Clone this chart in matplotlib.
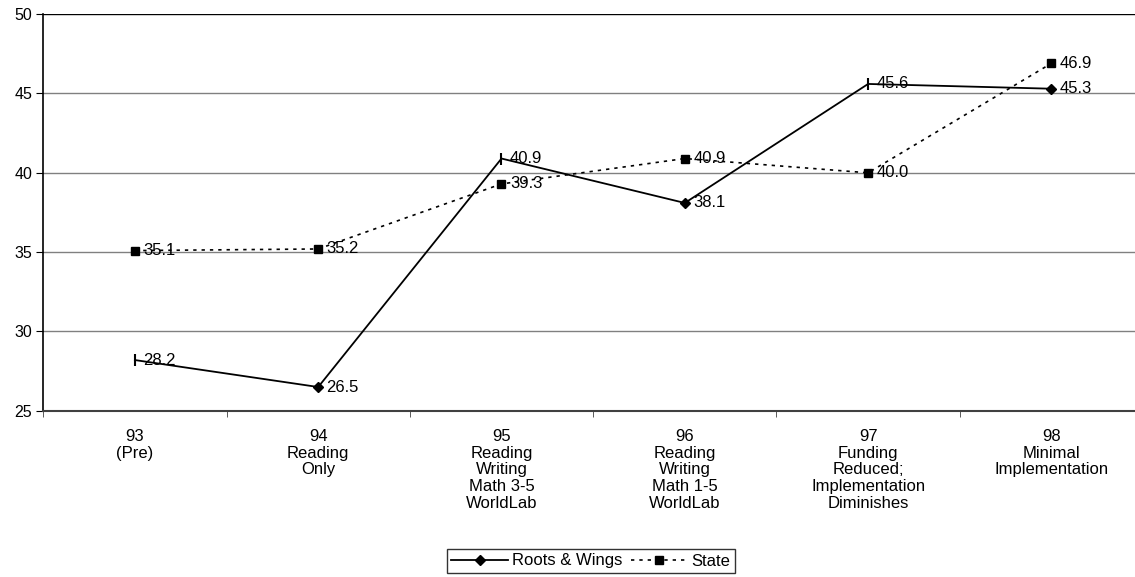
import matplotlib.pyplot as plt
from matplotlib import rcParams

rcParams['font.family'] = ['Liberation Sans', 'DejaVu Sans']
rcParams['font.size'] = 11.5

categories = ['93\n(Pre)', '94\nReading\nOnly', '95\nReading\nWriting\nMath 3-5\nWorldLab',
              '96\nReading\nWriting\nMath 1-5\nWorldLab', '97\nFunding\nReduced;\nImplementation\nDiminishes',
              '98\nMinimal\nImplementation']
roots_wings = [28.2, 26.5, 40.9, 38.1, 45.6, 45.3]
state = [35.1, 35.2, 39.3, 40.9, 40.0, 46.9]
# the original chart shows some Roots & Wings points as a bar instead of a diamond
rw_marker = ['|', 'D', '|', 'D', '|', 'D']

x = list(range(len(categories)))

fig = plt.figure(figsize=(11.35, 5.77), dpi=100)
ax = fig.add_axes([0.0381, 0.288, 0.969, 0.6875])

ax.set_ylim(25, 50)
ax.set_xlim(-0.5, len(categories) - 0.5)
ax.set_yticks([25, 30, 35, 40, 45, 50])
for yv in [30, 35, 40, 45]:
    ax.axhline(yv, color='#808080', linewidth=1, zorder=0)
ax.axhline(50, color='black', linewidth=1, zorder=0)

ax.plot(x, roots_wings, color='black', linewidth=1.3, marker='D', markersize=5,
        markevery=[i for i, m in enumerate(rw_marker) if m == 'D'], label='Roots & Wings', zorder=3)
bar_idx = [i for i, m in enumerate(rw_marker) if m == '|']
ax.plot([x[i] for i in bar_idx], [roots_wings[i] for i in bar_idx], linestyle='none',
        marker='|', markersize=8, markeredgewidth=1.5, color='black', zorder=3)
ax.plot(x, state, color='black', linewidth=1.2, linestyle=(0, (2, 3)), marker='s', markersize=6,
        label='State', zorder=3)

for xi, v in zip(x, roots_wings):
    ax.annotate(f'{v:.1f}', (xi, v), xytext=(6, 0), textcoords='offset points',
                va='center', ha='left', fontsize=12)
for xi, v in zip(x, state):
    ax.annotate(f'{v:.1f}', (xi, v), xytext=(6, 0), textcoords='offset points',
                va='center', ha='left', fontsize=12)

ax.set_xticks(x)
ax.set_xticklabels(categories, linespacing=1.15, fontsize=12)
ax.set_xticks([i + 0.5 for i in range(-1, len(categories))], minor=True)
ax.tick_params(axis='x', which='major', length=0, pad=13)
ax.tick_params(axis='x', which='minor', length=4, color='#404040')
ax.tick_params(axis='y', length=5, pad=3)

ax.spines['top'].set_visible(False)
ax.spines['right'].set_visible(False)
ax.spines['bottom'].set_color('#404040')
ax.spines['bottom'].set_linewidth(1.5)
ax.spines['left'].set_linewidth(1.2)

leg = ax.legend(loc='center', bbox_to_anchor=(591 / 1135, 1 - 561 / 577),
                bbox_transform=fig.transFigure, ncol=2, frameon=True, fancybox=False,
                edgecolor='black', handlelength=3.4, columnspacing=0.5, handletextpad=0.25,
                borderpad=0.25, fontsize=12)
leg.get_frame().set_linewidth(1)

fig.savefig('out.png', dpi=100)
